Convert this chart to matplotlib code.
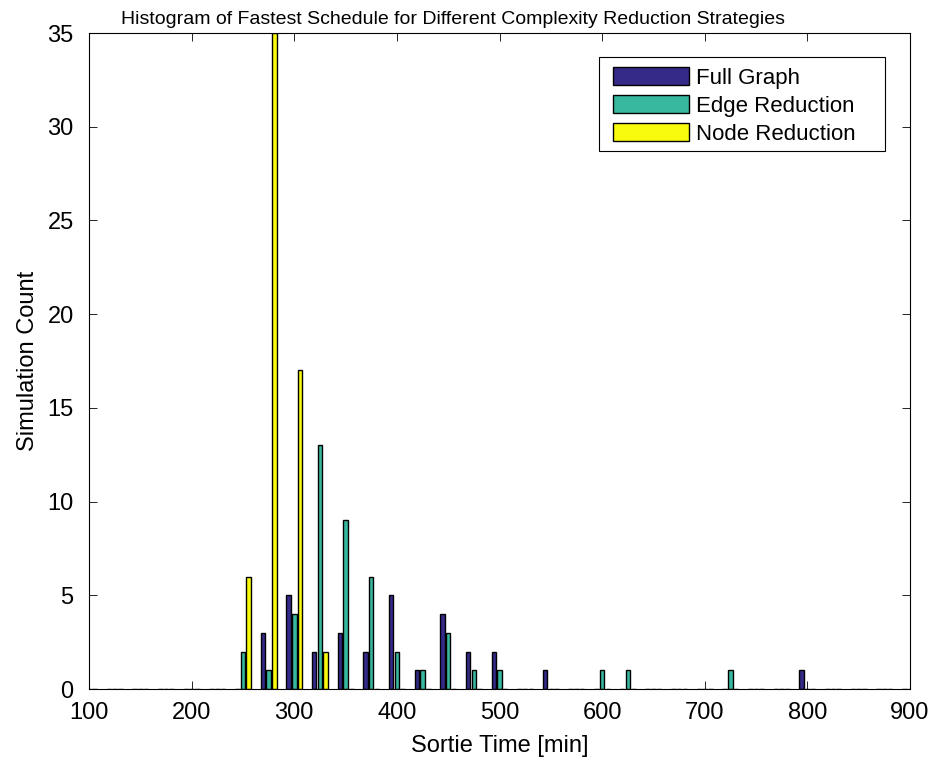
import numpy as np
import matplotlib
matplotlib.use("Agg")
import matplotlib.pyplot as plt
from matplotlib.patches import Rectangle

# ---- data ----
bin_centers = list(range(100, 901, 25))  # 100:25:900
# counts for bins at 250, 275, ..., 800 (others are zero)
full_graph_nz = {250: 0, 275: 3, 300: 5, 325: 2, 350: 3, 375: 2, 400: 5, 425: 1,
                 450: 4, 475: 2, 500: 2, 550: 1, 800: 1}
edge_reduction_nz = {250: 2, 275: 1, 300: 4, 325: 13, 350: 9, 375: 6, 400: 2, 425: 1,
                     450: 3, 475: 1, 500: 1, 600: 1, 625: 1, 725: 1}
node_reduction_nz = {250: 6, 275: 35, 300: 17, 325: 2}
full_graph = [full_graph_nz.get(c, 0) for c in bin_centers]
edge_reduction = [edge_reduction_nz.get(c, 0) for c in bin_centers]
node_reduction = [node_reduction_nz.get(c, 0) for c in bin_centers]
series_names = ["Full Graph", "Edge Reduction", "Node Reduction"]
colors = ["#352A87", "#38B89E", "#F9FB0E"]
x_ticks = list(range(100, 901, 100))
y_ticks = list(range(0, 36, 5))

plt.rcParams['font.family'] = ['Liberation Sans', 'DejaVu Sans']

W, H = 932, 766
L, R, T, B = 89, 910, 33, 689
fig = plt.figure(figsize=(W/100, H/100), dpi=100)
ax = fig.add_axes([L/W, 1-B/H, (R-L)/W, (B-T)/H])

step = 25
offset = step * 2/9
bw = offset * 0.8
x = np.array(bin_centers, dtype=float)
for i, (vals, name, col) in enumerate(zip([full_graph, edge_reduction, node_reduction],
                                           series_names, colors)):
    ax.bar(x + (i-1)*offset, vals, width=bw, color=col, edgecolor='black',
           linewidth=1.0, label=name, zorder=2)

ax.set_xlim(100, 900)
ax.set_ylim(0, 35)
ax.set_xticks(x_ticks)
ax.set_yticks(y_ticks)
ax.tick_params(direction='in', top=True, right=True, length=6, width=0.6,
               labelsize=17)
ax.tick_params(axis='x', pad=9.5)
ax.tick_params(axis='y', pad=11)
for s in ax.spines.values():
    s.set_linewidth(0.8)
    s.set_color('black')
    s.set_zorder(3)

ax.set_xlabel("Sortie Time [min]", fontsize=17, labelpad=8)
ax.set_ylabel("Simulation Count", fontsize=17, labelpad=6)

fig.text(453/W, 1-24/H, "Histogram of Fastest Schedule for Different Complexity Reduction Strategies",
         ha='center', va='baseline', fontsize=14)

# legend frame (MATLAB style, wider right padding)
def ax_x(px):
    return (px - L) / (R - L)
def ax_y(py):
    return (B - py) / (B - T)
frame = Rectangle((ax_x(599), ax_y(151)), ax_x(885) - ax_x(599), ax_y(57) - ax_y(151),
                  transform=ax.transAxes, facecolor='white', edgecolor='black',
                  linewidth=0.8, zorder=4)
ax.add_patch(frame)
leg = ax.legend(loc='upper left', bbox_to_anchor=(ax_x(613), ax_y(67)), borderaxespad=0,
                frameon=False, fontsize=16,
                handlelength=3.4, handleheight=0.9, labelspacing=0.27,
                handletextpad=0.35, borderpad=0)
leg.set_zorder(5)

fig.savefig("out.png", dpi=100)
